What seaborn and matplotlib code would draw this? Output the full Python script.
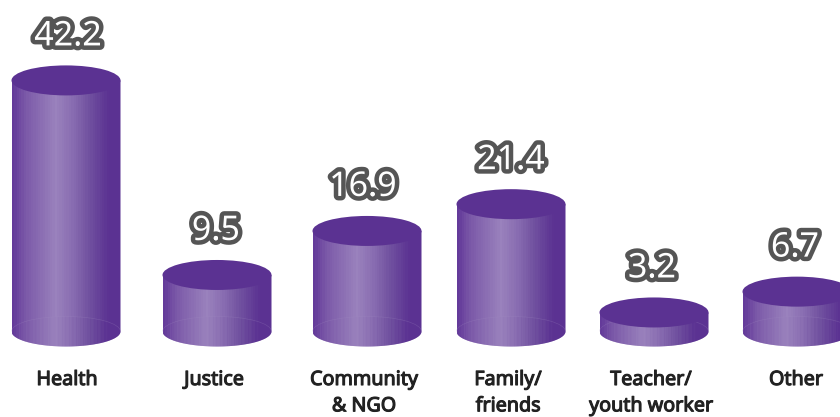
import numpy as np
import pandas as pd
import matplotlib
matplotlib.use("Agg")
import matplotlib.pyplot as plt
import matplotlib.patheffects as pe
from matplotlib.colors import LinearSegmentedColormap
from matplotlib.patches import Ellipse, Arc, PathPatch
from matplotlib.path import Path
import seaborn as sns

# values
categories = ['Health', 'Justice', 'Community\n& NGO', 'Family/\nfriends', 'Teacher/\nyouth worker', 'Other']
values = [42.2, 9.5, 16.9, 21.4, 3.2, 6.7]
value_labels = ['42.2', '9.5', '16.9', '21.4', '3.2', '6.7']

# layout, in pixels of the 840x417 picture
centres = [66, 217, 367, 511, 654, 797]
value_nudge = [2, -1, -4, 0, -2, -2]
cat_nudge = [1, -3, -3, -3, -3, -1]
bar_px = 109
ell_px = 30
px_per_unit = 5.95
base_px = 331.5

sns.set_theme(style='white')
plt.rcParams['font.family'] = ['Noto Sans', 'DejaVu Sans']

df = pd.DataFrame({'pos': centres, 'value': values})

fig = plt.figure(figsize=(8.4, 4.17), dpi=100)
ax = fig.add_axes([0, 0, 1, 1])

sns.barplot(data=df, x='pos', y='value', native_scale=True, color='#5b3292',
            saturation=1, width=bar_px / 143, errorbar=None, ax=ax)
ax.axis('off')

dark = '#5b3292'
cmap = LinearSegmentedColormap.from_list('cyl', [
    (0.0, '#643a9a'), (0.12, '#7c5aa9'), (0.40, '#9a82bd'),
    (0.55, '#8a6eb2'), (0.72, '#70509f'), (0.90, '#5b3292'), (1.0, '#5b3292')])
ell_h = ell_px / px_per_unit


def body_clip(x0, w, top):
    # side of the cylinder, with the rounded bottom
    t = np.linspace(np.pi, 2 * np.pi, 60)
    cx = x0 + w / 2
    xs = cx + w / 2 * np.cos(t)
    ys = ell_h / 2 * np.sin(t)
    verts = [(x0, top)] + list(zip(xs, ys)) + [(x0 + w, top), (x0, top)]
    return Path(verts)


for bar, val, label, nudge in zip(ax.patches, values, value_labels, value_nudge):
    x0, w = bar.get_x(), bar.get_width()
    cx = x0 + w / 2
    bar.set_visible(False)

    # banded shading of the side
    n = 46
    shade = np.linspace(0, 1, n).reshape(1, -1)
    im = ax.imshow(shade, cmap=cmap, vmin=0, vmax=1, aspect='auto', zorder=2,
                   extent=[x0, x0 + w, -ell_h, val], interpolation='nearest')
    clip = PathPatch(body_clip(x0, w, val), transform=ax.transData, fc='none', ec='none')
    ax.add_patch(clip)
    im.set_clip_path(clip)

    # finer streaks in the base
    n2 = 92
    shade2 = np.linspace(0, 1, n2)
    shade2 = np.where(np.arange(n2) % 3 == 0, shade2 + 0.04, shade2).reshape(1, -1)
    base = Ellipse((cx, 0), w, ell_h, transform=ax.transData, fc='none', ec='none')
    ax.add_patch(base)
    im2 = ax.imshow(shade2, cmap=cmap, vmin=0, vmax=1, aspect='auto', zorder=2.1, alpha=0.45,
                    extent=[x0, x0 + w, -ell_h, ell_h], interpolation='nearest')
    im2.set_clip_path(base)
    ax.add_patch(Arc((cx, 0), w, ell_h, theta1=0, theta2=180, ec='#a48fc4', lw=0.5, alpha=0.25, zorder=2.2))

    # flat top
    ax.add_patch(Ellipse((cx, val), w, ell_h, fc=dark, ec='none', zorder=3))

    ax.annotate(label, xy=(cx, val), xytext=(nudge * 0.72, 44 * 0.72), textcoords='offset points',
                ha='center', va='center', fontsize=24.5, fontweight='bold', color='white',
                zorder=5, path_effects=[pe.withStroke(linewidth=6.5, foreground='#555555')])

ax.set_xlim(0, 840)
ax.set_ylim(-(417 - base_px) / px_per_unit, base_px / px_per_unit)

for cx, cat, nudge in zip(centres, categories, cat_nudge):
    ax.annotate(cat, xy=(cx, 0), xytext=(nudge * 0.72, -38.5 * 0.72), textcoords='offset points',
                ha='center', va='top', fontsize=14.2, color='#222222',
                linespacing=1.42, annotation_clip=False,
                path_effects=[pe.withStroke(linewidth=0.8, foreground='#222222')])

fig.savefig('out.png', dpi=100)
